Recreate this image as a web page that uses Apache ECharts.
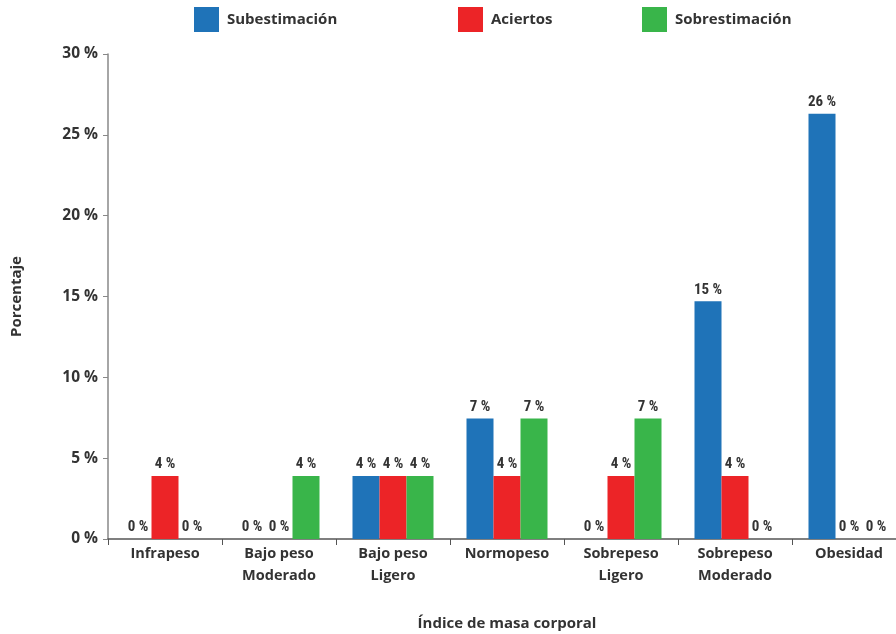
<!DOCTYPE html>
<html>
<head>
<meta charset="utf-8">
<script src="https://cdn.jsdelivr.net/npm/echarts@6/dist/echarts.min.js"></script>
<style>html,body{margin:0;padding:0;background:#fff;}#c{width:896px;height:634px;}</style>
</head>
<body>
<div id="c"></div>
<script>
const categories = ['Infrapeso', 'Bajo peso\nModerado', 'Bajo peso\nLigero', 'Normopeso', 'Sobrepeso\nLigero', 'Sobrepeso\nModerado', 'Obesidad'];
const subestimacion = [0, 0, 3.9, 7.45, 0, 14.7, 26.3];
const aciertos = [3.9, 0, 3.9, 3.9, 3.9, 3.9, 0];
const sobrestimacion = [0, 3.9, 3.9, 7.45, 7.45, 0, 0];
const seriesNames = ['Subestimación', 'Aciertos', 'Sobrestimación'];
const colors = ['#1f73b8', '#ec2427', '#39b54a'];

const labelFont = "'Liberation Sans Narrow', 'Roboto Condensed', sans-serif";
const mainFont = "'Open Sans', 'Noto Sans', sans-serif";

const chart = echarts.init(document.getElementById('c'));
const dataArr = [subestimacion, aciertos, sobrestimacion];
const legendLefts = [189, 453, 637];

chart.setOption({
  animation: false,
  legend: seriesNames.map((n, i) => ({
    data: [n], left: legendLefts[i], top: 2, itemWidth: 25, itemHeight: 25, icon: 'rect', itemGap: 8,
    textStyle: { fontFamily: mainFont, fontWeight: 'bold', fontSize: 15, color: '#333', padding: [0, 0, 0, 3] }
  })),
  grid: { left: 108, top: 54, width: 798, bottom: 95, containLabel: false, outerBoundsMode: 'none' },
  xAxis: {
    type: 'category', data: categories,
    name: 'Índice de masa corporal', nameLocation: 'middle', nameGap: 77,
    nameTextStyle: { fontFamily: mainFont, fontWeight: 'bold', fontSize: 15, color: '#333' },
    axisLine: { lineStyle: { color: '#555', width: 1.5 } },
    axisTick: { show: true, length: 6, interval: 0, lineStyle: { color: '#555' } },
    axisLabel: { interval: 0, margin: 4, fontFamily: mainFont, fontWeight: 'bold', fontSize: 14.5, lineHeight: 22, color: '#333' }
  },
  yAxis: {
    type: 'value', min: 0, max: 30, interval: 5,
    name: 'Porcentaje', nameLocation: 'middle', nameGap: 84, nameRotate: 90,
    nameTextStyle: { fontFamily: mainFont, fontWeight: 'bold', fontSize: 15, color: '#333' },
    axisLine: { show: true, lineStyle: { color: '#888', width: 1.5 } },
    axisTick: { show: true, length: 5, lineStyle: { color: '#888' } },
    splitLine: { show: false },
    axisLabel: { margin: 10, fontFamily: mainFont, fontWeight: 'bold', fontSize: 15.5, color: '#333', formatter: v => v + ' %' }
  },
  series: seriesNames.map((n, i) => ({
    name: n, type: 'bar', data: dataArr[i], barWidth: 27, barGap: '0%',
    itemStyle: { color: colors[i] },
    label: { show: true, position: 'top', distance: 4, fontFamily: labelFont, fontWeight: 'bold', fontSize: 15, color: '#333',
      formatter: p => Math.round(p.value) + ' %' }
  }))
});
</script>
</body>
</html>
